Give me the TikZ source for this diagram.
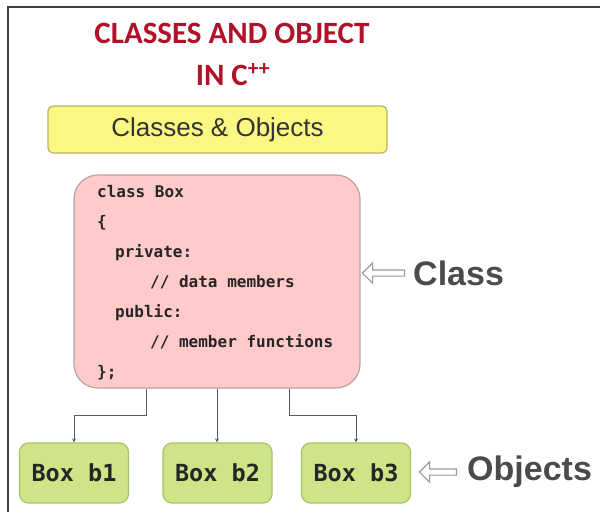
\documentclass[tikz,border=0pt]{standalone}
\usepackage{fontspec}
\usetikzlibrary{shapes.arrows}
\newfontfamily\titlefont{Carlito}
\newfontfamily\labelfont{Liberation Sans}
\newfontfamily\codefont{DejaVu Sans Mono}
\definecolor{titlered}{RGB}{176,18,42}
\definecolor{hdrfill}{RGB}{250,248,130}
\definecolor{hdrline}{RGB}{185,180,95}
\definecolor{clsfill}{RGB}{255,202,202}
\definecolor{clsline}{RGB}{190,160,160}
\definecolor{objfill}{RGB}{206,228,135}
\definecolor{objline}{RGB}{165,195,105}
\definecolor{lblgray}{RGB}{75,75,75}
\tikzset{
  objbox/.style={draw=objline,fill=objfill,line width=1.2pt,rounded corners=9pt,
    minimum width=109pt,minimum height=60pt,text=black!85,
    font=\codefont\bfseries\fontsize{23.5}{28}\selectfont},
  link/.style={->,>=stealth,draw=black!65,line width=0.8pt},
  hollow/.style={single arrow,draw=black!40,fill=white,line width=1.2pt,
    shape border rotate=180,minimum width=17pt,inner sep=2.5pt,anchor=tail},
  sidelbl/.style={font=\labelfont\bfseries\fontsize{34}{40}\selectfont,
    text=lblgray,inner sep=0pt,anchor=west},
}

\begin{document}
\begin{tikzpicture}[x=1pt,y=-1pt]
      \useasboundingbox (0,0) rectangle (600,512);
      \draw[line width=2pt,black!75] (600,7) -- (8,7) -- (8,512);
      % title
      \node[anchor=base,text=titlered,font=\titlefont\bfseries\fontsize{31}{36}\selectfont] (title) at (232,43) {CLASSES AND OBJECT};
      \node[anchor=base,text=titlered,font=\titlefont\bfseries\fontsize{31}{36}\selectfont] (lang) at (233,85) {IN C\textsuperscript{++}};
      \node[draw=hdrline,fill=hdrfill,line width=1.2pt,rounded corners=5pt,minimum width=339pt,minimum height=47pt,text=black!80,font=\labelfont\fontsize{26}{30}\selectfont] (topic) at (217.5,129.5) {Classes \& Objects};
      % class
      \node[draw=clsline,fill=clsfill,line width=1.2pt,rounded corners=24pt,minimum width=286pt,minimum height=213pt] (cls) at (217,281.5) {};
      \node[anchor=base west,align=left,inner sep=0pt,text=black!85,font=\codefont\bfseries\fontsize{16}{30}\selectfont] (code) at (97,377) {class Box\\
        \{\\
        \hspace*{18pt}private:\\
        \hspace*{53pt}// data members\\
        \hspace*{18pt}public:\\
        \hspace*{53pt}// member functions\\
        \};};
      % objects
      \node[objbox] (b1) at (74,473) {Box b1};
      \node[objbox] (b2) at (217.5,473) {Box b2};
      \node[objbox] (b3) at (356,473) {Box b3};
      \draw[link] ([xshift=-71pt]cls.south) -- ++(0,27) -| (b1.north);
      \draw[link] (cls.south) -- (cls.south |- b2.north);
      \draw[link] ([xshift=72pt]cls.south) -- ++(0,27) -| (b3.north);
      % side labels
      \node[sidelbl] (clslbl) at (413,273) {Class};
      \node[hollow,minimum height=42pt] (clsarrow) at ([xshift=-8pt]clslbl.west) {};
      \node[sidelbl] (objlbl) at (467,472) {Objects};
      \node[hollow,minimum height=37pt] (objarrow) at ([xshift=-10pt]objlbl.west) {};
    \end{tikzpicture}
\end{document}
